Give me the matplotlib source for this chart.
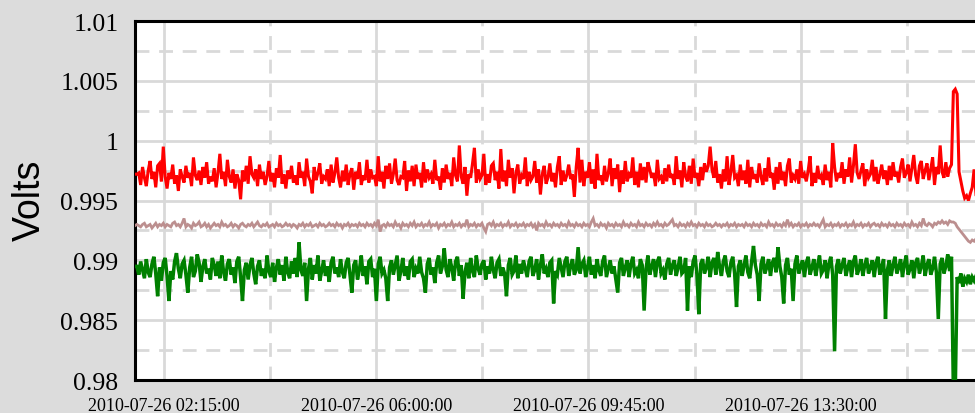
import matplotlib
matplotlib.use("Agg")
import matplotlib.pyplot as plt
import matplotlib.dates as mdates
from matplotlib.ticker import MultipleLocator, FuncFormatter
import numpy as np
import pandas as pd

# readings every 2 minutes, values in millivolts
start = "2010-07-26 01:44:00"
step = "2min"

red_mv = [
    997.2, 997.2, 997.3, 996.3, 997.8, 996.9, 996.2, 997.5, 998.3, 996.8, 997.4, 996.1, 997.9, 998.1, 996.6,
    999.5, 997.0, 996.0, 997.3, 996.8, 998.0, 996.4, 997.1, 995.8, 997.6, 997.0, 996.5, 997.9, 996.9, 997.3,
    996.2, 998.6, 997.1, 996.7, 997.5, 996.3, 997.8, 996.9, 998.2, 996.4, 997.0, 996.6, 997.7, 996.1, 997.3,
    998.9, 996.8, 997.4, 996.2, 998.4, 997.0, 996.5, 997.6, 996.0, 997.2, 996.7, 995.1, 997.5, 996.6, 997.9,
    996.4, 998.7, 997.2, 996.9, 997.6, 996.2, 998.0, 996.8, 997.4, 996.3, 997.0, 998.3, 996.6, 997.3, 996.1,
    997.7, 996.9, 998.8, 996.4, 997.2, 996.0, 997.5, 996.8, 997.9, 996.5, 997.1, 996.3, 998.2, 996.9, 997.4,
    996.2, 998.5, 997.0, 996.6, 995.6, 997.8, 996.7, 997.3, 998.1, 996.4, 997.0, 996.8, 997.6, 996.2, 998.0,
    996.5, 997.3, 998.6, 996.9, 996.1, 997.5, 996.6, 998.0, 996.3, 997.2, 997.7, 995.9, 997.4, 996.8, 998.2,
    996.3, 997.1, 996.7, 998.4, 996.5, 997.6, 996.9, 997.0, 996.2, 998.7, 996.6, 997.4, 996.0, 997.9, 996.8,
    998.1, 996.4, 997.2, 998.5, 996.7, 996.3, 997.0, 996.9, 998.3, 995.8, 997.5, 996.6, 997.9, 996.2, 998.0,
    996.8, 997.3, 996.1, 998.2, 996.5, 997.6, 996.9, 997.2, 996.4, 998.4, 996.7, 997.0, 995.9, 997.7, 996.5,
    998.0, 996.8, 997.3, 996.2, 998.6, 997.1, 996.6, 999.6, 997.0, 996.4, 997.8, 995.4, 997.2, 996.9, 998.1,
    999.4, 996.5, 997.6, 996.8, 997.1, 998.9, 996.3, 997.2, 996.5, 997.9, 998.1, 996.7, 997.4, 996.0, 999.3,
    996.6, 997.5, 996.2, 998.4, 996.9, 997.7, 995.6, 997.3, 998.0, 996.4, 997.1, 996.8, 998.6, 996.2, 997.4,
    996.7, 997.0, 998.3, 996.5, 997.6, 995.5, 997.2, 997.9, 996.4, 996.9, 998.1, 996.6, 997.3, 996.1, 997.8,
    998.7, 996.3, 997.5, 996.6, 997.1, 998.0, 996.8, 997.2, 995.3, 997.8, 999.4, 996.5, 998.4, 996.2, 997.4,
    996.9, 998.2, 996.4, 997.6, 996.0, 998.9, 996.7, 997.1, 996.3, 997.9, 996.6, 997.3, 998.5, 996.2, 997.7,
    996.8, 998.0, 995.7, 997.5, 996.4, 998.3, 996.6, 997.2, 996.9, 998.6, 996.3, 997.4, 996.1, 998.1, 996.7,
    997.8, 996.5, 998.2, 997.6, 996.9, 997.3, 996.2, 998.4, 996.8, 997.0, 996.4, 997.7, 996.6, 998.0, 996.9,
    997.2, 996.3, 998.7, 996.8, 997.5, 996.1, 998.2, 997.0, 996.6, 997.9, 996.4, 998.5, 996.9, 997.3, 996.2,
    997.8, 996.7, 998.1, 997.4, 997.9, 999.5, 997.6, 996.9, 998.3, 996.5, 997.2, 996.0, 997.6, 996.6, 998.7,
    996.3, 997.4, 998.8, 996.9, 997.1, 996.2, 998.0, 996.7, 997.5, 996.4, 998.4, 996.1, 997.8, 996.8, 997.2,
    996.5, 998.1, 997.0, 996.3, 997.7, 996.6, 998.6, 996.9, 997.3, 995.9, 997.8, 996.4, 998.2, 996.7, 997.4,
    996.2, 997.9, 998.5, 996.5, 997.1, 996.8, 997.6, 996.4, 998.3, 996.9, 997.2, 996.6, 997.5, 998.7, 996.2,
    997.3, 996.5, 997.9, 996.8, 997.1, 996.3, 998.0, 996.7, 997.4, 996.1, 999.8, 997.8, 996.6, 997.3, 996.9,
    998.2, 996.4, 997.6, 997.0, 998.6, 996.5, 997.9, 999.7, 997.3, 996.8, 997.5, 998.1, 996.2, 997.6, 996.9,
    997.2, 998.4, 996.6, 997.8, 996.4, 997.1, 998.0, 996.8, 997.5, 996.3, 997.9, 996.7, 998.2, 997.0, 997.4,
    996.5, 997.8, 998.5, 996.9, 997.3, 998.0, 996.6, 997.7, 998.8, 997.1, 996.4, 997.9, 998.3, 996.8, 997.5,
    998.1, 996.7, 997.6, 998.6, 996.3, 997.8, 997.2, 999.6, 997.4, 996.9, 998.2, 997.0, 997.7, 998.0, 1004.1,
    1004.3, 1003.9, 997.4, 996.6, 995.8, 995.2, 995.4, 995.0, 995.6, 996.1, 997.6, 995.5,
]

brown_mv = [
    992.9, 993.0, 992.9, 992.8, 993.0, 993.1, 992.8, 992.9, 993.0, 992.7, 992.9, 993.1, 992.8, 993.0, 992.9,
    993.1, 992.8, 993.0, 992.9, 992.8, 993.1, 993.2, 992.9, 993.0, 992.8, 993.1, 993.5, 992.8, 993.0, 992.9,
    992.7, 993.1, 992.9, 993.0, 993.2, 992.8, 992.9, 993.1, 992.8, 993.0, 992.7, 992.9, 993.1, 992.9, 993.0,
    992.8, 993.2, 992.9, 993.0, 992.8, 992.9, 993.1, 992.8, 993.0, 992.9, 992.7, 993.0, 993.1, 992.9, 992.8,
    993.0, 992.9, 993.1, 992.8, 993.0, 993.2, 992.9, 992.8, 993.0, 992.9, 993.1, 992.8, 992.9, 993.0, 992.8,
    993.1, 992.9, 993.0, 992.8, 992.9, 993.1, 992.9, 993.0, 992.8, 993.0, 992.9, 992.7, 993.0, 992.9, 993.1,
    992.8, 993.0, 992.9, 993.1, 992.8, 992.9, 993.0, 992.8, 993.1, 992.9, 993.0, 992.8, 992.9, 993.1, 992.9,
    993.0, 992.8, 993.1, 992.9, 993.0, 992.7, 993.0, 992.9, 993.1, 992.8, 993.0, 992.9, 993.0, 992.8, 993.1,
    992.9, 993.0, 992.8, 993.1, 992.9, 993.0, 992.8, 993.1, 992.9, 993.4, 992.4, 992.9, 993.0, 992.8, 993.1,
    992.9, 993.0, 992.8, 993.2, 992.9, 993.0, 992.7, 993.1, 992.9, 993.0, 992.8, 993.1, 992.9, 993.2, 992.8,
    993.0, 992.9, 993.1, 992.8, 993.0, 992.9, 993.2, 992.8, 993.0, 992.9, 993.1, 992.7, 993.0, 992.9, 993.1,
    992.8, 993.0, 992.9, 993.2, 992.8, 993.0, 992.9, 993.1, 992.8, 993.0, 992.9, 993.4, 992.8, 993.0, 992.9,
    993.1, 992.8, 993.0, 992.9, 993.1, 992.7, 992.4, 993.0, 993.1, 992.9, 993.2, 992.8, 993.0, 992.9, 993.1,
    992.8, 993.0, 992.9, 993.2, 992.8, 993.0, 992.9, 993.1, 992.8, 993.0, 992.9, 993.1, 992.8, 993.0, 992.9,
    993.1, 992.8, 993.0, 992.5, 993.1, 992.9, 993.0, 992.8, 993.2, 992.9, 993.0, 992.8, 993.1, 992.9, 993.0,
    992.8, 993.1, 992.9, 993.0, 992.8, 993.2, 992.9, 993.0, 992.8, 993.1, 992.9, 993.0, 992.8, 993.1, 992.9,
    993.0, 992.8, 993.2, 993.5, 992.9, 993.0, 992.8, 993.1, 992.9, 993.0, 992.7, 993.1, 992.9, 993.0, 992.8,
    993.1, 992.9, 993.0, 992.8, 993.2, 992.9, 993.0, 992.8, 993.1, 992.9, 993.0, 992.8, 993.2, 992.9, 993.0,
    992.8, 993.1, 992.9, 993.0, 992.8, 993.1, 992.9, 993.2, 992.9, 993.0, 992.8, 993.1, 992.9, 993.0, 993.2,
    993.4, 992.9, 993.0, 992.8, 993.1, 992.9, 993.0, 992.8, 993.1, 992.9, 993.2, 992.9, 993.0, 992.8, 993.1,
    992.9, 993.0, 992.8, 993.1, 992.9, 993.0, 992.8, 992.9, 993.1, 992.9, 993.0, 992.8, 993.0, 992.9, 993.1,
    992.8, 993.0, 992.9, 993.1, 992.8, 993.0, 992.9, 993.0, 992.8, 993.1, 992.9, 993.0, 992.8, 993.1, 992.9,
    993.0, 992.8, 993.1, 992.9, 993.0, 992.8, 993.2, 992.9, 993.0, 992.8, 993.1, 992.9, 993.0, 992.8, 993.1,
    992.9, 993.4, 992.9, 993.1, 992.8, 993.0, 992.9, 993.1, 992.8, 993.0, 992.9, 993.1, 992.8, 993.0, 992.9,
    993.1, 992.9, 993.0, 992.8, 993.1, 993.4, 992.8, 993.0, 992.9, 993.1, 992.8, 993.0, 992.9, 993.1, 992.8,
    993.0, 992.9, 993.1, 992.8, 993.0, 992.9, 993.2, 992.8, 993.0, 992.9, 993.1, 992.8, 993.0, 992.9, 993.1,
    992.8, 993.0, 993.1, 992.9, 993.0, 992.8, 993.1, 992.9, 993.0, 992.8, 993.1, 992.9, 993.0, 992.8, 993.1,
    992.9, 993.0, 992.8, 993.1, 992.9, 993.0, 992.8, 993.2, 992.9, 993.0, 992.8, 993.1, 992.9, 993.5, 993.0,
    992.9, 993.1, 993.0, 992.8, 993.1, 993.0, 993.2, 993.1, 993.3, 993.1, 993.2, 993.0, 993.3, 993.2, 993.2,
    993.1, 992.8, 992.6, 992.4, 992.2, 992.0, 991.8, 991.6, 991.5, 991.7, 991.6, 991.8,
]

green_mv = [
    989.5, 989.5, 988.8, 989.9, 989.2, 988.5, 990.1, 989.0, 988.6, 989.7, 990.3, 988.9, 987.0, 989.4, 988.3,
    989.8, 990.2, 988.7, 986.6, 989.1, 988.4, 989.9, 990.6, 989.3, 988.5, 989.7, 990.0, 988.8, 987.3, 989.4,
    990.3, 988.6, 989.1, 990.5, 989.8, 988.2, 989.5, 990.1, 988.9, 989.3, 988.4, 990.2, 989.6, 988.7, 989.9,
    988.5, 990.4, 989.0, 988.3, 989.7, 990.1, 988.8, 989.4, 988.1, 989.9, 990.3, 988.6, 986.6, 989.2, 989.8,
    988.4, 989.6, 990.2, 988.9, 988.0, 989.5, 990.0, 988.7, 989.3, 988.5, 990.4, 989.1, 988.6, 989.8, 988.2,
    989.4, 990.1, 988.8, 989.6, 988.3, 990.3, 989.0, 988.5, 989.9, 988.9, 990.2, 988.6, 991.5, 989.2, 988.7,
    989.8, 986.6, 989.3, 990.2, 988.4, 989.6, 988.9, 990.4, 988.3, 989.1, 990.0, 988.7, 989.5, 988.2, 989.8,
    990.3, 988.9, 989.4, 988.6, 990.1, 989.0, 988.5, 989.8, 990.2, 988.8, 987.3, 989.6, 990.0, 988.4, 989.2,
    990.4, 988.7, 989.5, 988.0, 989.9, 990.1, 988.6, 989.3, 986.6, 989.7, 990.3, 988.9, 989.2, 988.5, 986.6,
    989.4, 990.0, 988.8, 989.6, 990.4, 988.3, 989.1, 990.2, 988.7, 989.5, 988.4, 989.9, 990.1, 988.6, 989.3,
    988.9, 990.3, 989.0, 988.5, 987.3, 989.7, 990.2, 988.8, 989.4, 988.1, 989.8, 990.4, 988.9, 989.5, 991.0,
    989.2, 988.6, 990.1, 989.4, 988.3, 989.9, 990.3, 988.7, 989.6, 986.8, 989.0, 989.8, 988.5, 990.2, 989.1,
    988.6, 990.4, 989.3, 988.8, 989.7, 990.0, 988.4, 989.5, 988.9, 990.3, 989.2, 988.5, 989.8, 990.1, 988.7,
    989.4, 988.9, 987.0, 989.6, 990.2, 988.8, 989.1, 990.4, 988.5, 989.7, 988.9, 990.0, 989.3, 988.6, 989.9,
    990.3, 988.7, 989.2, 990.1, 988.4, 989.6, 990.5, 988.9, 989.3, 988.6, 989.8, 990.0, 986.4, 989.1, 988.8,
    990.2, 989.4, 988.6, 989.9, 990.3, 988.7, 989.5, 990.1, 988.8, 989.2, 991.1, 988.9, 989.7, 990.0, 988.6,
    989.4, 990.3, 988.8, 989.6, 988.5, 990.1, 989.2, 988.7, 989.9, 990.4, 988.6, 989.3, 990.0, 988.9, 989.5,
    988.4, 987.3, 989.8, 990.2, 988.7, 989.4, 990.0, 988.6, 989.7, 990.3, 988.9, 989.2, 988.5, 990.1, 989.6,
    985.8, 989.3, 990.4, 988.8, 989.5, 990.1, 988.6, 989.9, 990.3, 988.9, 989.2, 988.4, 989.7, 990.2, 988.8,
    989.6, 990.0, 988.7, 989.4, 990.3, 988.9, 989.1, 990.2, 985.8, 989.5, 988.6, 989.9, 990.4, 988.8, 985.5,
    989.7, 990.1, 988.9, 989.4, 990.3, 988.6, 989.8, 990.2, 988.8, 990.7, 989.5, 988.7, 989.9, 990.4, 989.1,
    988.6, 989.8, 990.3, 988.9, 986.1, 989.5, 990.0, 988.7, 989.6, 990.4, 989.0, 988.5, 989.9, 991.2, 989.6,
    988.8, 986.6, 989.7, 990.3, 988.9, 989.4, 990.1, 988.7, 989.8, 990.2, 989.0, 991.1, 989.5, 988.6, 986.4,
    989.6, 990.2, 988.8, 989.3, 986.6, 989.7, 990.4, 988.9, 989.5, 990.0, 988.6, 989.8, 990.3, 988.8, 989.4,
    990.1, 988.7, 989.6, 990.4, 988.9, 989.2, 990.0, 988.5, 989.7, 990.3, 988.8, 982.4, 989.5, 990.1, 988.9,
    989.6, 990.2, 988.7, 989.4, 990.0, 988.6, 989.9, 990.4, 988.8, 989.3, 990.1, 988.7, 989.6, 990.2, 988.9,
    989.4, 990.0, 988.6, 989.8, 990.3, 988.8, 989.5, 990.1, 985.1, 989.2, 990.0, 988.7, 989.6, 990.3, 988.9,
    989.4, 990.1, 988.6, 989.7, 990.4, 988.8, 989.3, 990.0, 988.5, 989.8, 990.2, 988.9, 989.5, 990.4, 988.7,
    989.6, 990.1, 988.8, 989.3, 990.3, 989.0, 985.1, 989.7, 990.2, 988.9, 989.5, 990.5, 989.1, 990.3, 979.0,
    979.0, 988.6, 988.1, 988.9, 987.8, 988.5, 988.2, 988.8, 988.0, 988.6, 988.3, 988.7,
]

major_times = pd.date_range("2010-07-26 02:15:00", periods=4, freq="225min")
minor_times = major_times + pd.Timedelta(minutes=112.5)

plt.rcParams['font.family'] = ['Liberation Serif', 'DejaVu Serif']

fig = plt.figure(figsize=(9.75, 4.14), dpi=100, facecolor='#dcdcdc')
ax = fig.add_axes([135 / 975, 33 / 414, 841 / 975, 359 / 414])
ax.set_facecolor('white')

for vals, col, lw in [(red_mv, '#ff0000', 2.2),
                      (brown_mv, '#bc8f8f', 2.0),
                      (green_mv, '#008000', 2.5)]:
    t = pd.date_range(start, periods=len(vals), freq=step)
    ax.plot(t, np.array(vals) / 1000.0, color=col, lw=lw, zorder=3,
            solid_joinstyle='miter')

ax.set_ylim(0.98, 1.01)
ax.set_xlim(pd.Timestamp("2010-07-26 01:44:00"), pd.Timestamp("2010-07-26 16:36:00"))

ax.yaxis.set_major_locator(MultipleLocator(0.005))
ax.yaxis.set_minor_locator(MultipleLocator(0.0025))
ax.yaxis.set_major_formatter(FuncFormatter(lambda v, p: '%g' % round(v, 4)))
ax.set_xticks(major_times)
ax.set_xticks(minor_times, minor=True)
ax.xaxis.set_major_formatter(mdates.DateFormatter('%Y-%m-%d %H:%M:%S'))

ax.grid(True, which='major', color='#d9d9d9', lw=2, ls='-', zorder=0)
ax.grid(True, which='minor', color='#d9d9d9', lw=2, ls=(0, (5, 3.5)), zorder=0)
ax.set_axisbelow(True)

ax.tick_params(axis='y', which='both', length=0, pad=12, labelsize=18.5)
ax.tick_params(axis='x', which='both', length=0, pad=12, labelsize=13)

for s in ['left', 'top', 'bottom']:
    ax.spines[s].set_linewidth(2.2)
    ax.spines[s].set_color('black')
ax.spines['right'].set_visible(False)

fig.text(30 / 975, 1 - 200 / 414, 'Volts', rotation=90, ha='center', va='center',
         fontsize=27, family=['Liberation Sans', 'DejaVu Sans'])

fig.savefig('out.png', dpi=100, facecolor=fig.get_facecolor())
